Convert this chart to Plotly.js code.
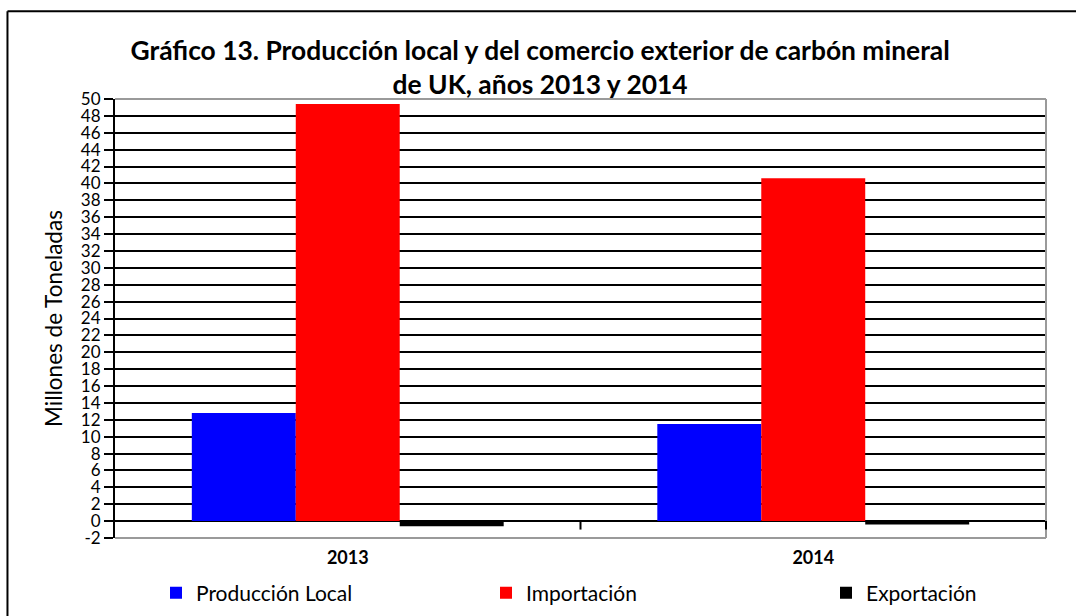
<!DOCTYPE html>
<html>
<head>
<meta charset="utf-8">
<script src="https://cdn.plot.ly/plotly-3.0.1.min.js"></script>
<style>html,body{margin:0;padding:0;background:#fff;}#chart{width:1076px;height:616px;}</style>
</head>
<body>
<div id="chart"></div>
<script>
const years = ["2013", "2014"];
const produccionLocal = [12.8, 11.5];
const importacion = [49.4, 40.6];
const exportacion = [-0.6, -0.4];
const yTicks = [-2,0,2,4,6,8,10,12,14,16,18,20,22,24,26,28,30,32,34,36,38,40,42,44,46,48,50];

const FONT = "Lato, 'Open Sans', sans-serif";

const traces = [
  {type: "bar", name: "Producción Local", x: years, y: produccionLocal, marker: {color: "#0000ff", line: {width: 0}}, legend: "legend"},
  {type: "bar", name: "Importación", x: years, y: importacion, marker: {color: "#ff0000", line: {width: 0}}, legend: "legend2"},
  {type: "bar", name: "Exportación", x: years, y: exportacion, marker: {color: "#000000", line: {width: 0}}, legend: "legend3"}
];

function legendAt(xpx) {
  return {
    orientation: "h", x: xpx / 1076, xanchor: "left", y: 0.037, yanchor: "middle",
    xref: "container", yref: "container",
    font: {family: FONT, size: 21, color: "#000"},
    itemwidth: 30, bgcolor: "rgba(0,0,0,0)"
  };
}

const layout = {
  width: 1076, height: 616,
  margin: {l: 115, r: 30, t: 99, b: 78},
  paper_bgcolor: "#ffffff", plot_bgcolor: "#ffffff",
  font: {family: FONT, color: "#000", size: 16},
  title: {
    text: "<b>Gráfico 13. Producción local y del comercio exterior de carbón mineral<br>de UK, años 2013 y 2014</b>",
    font: {family: FONT, size: 26.4, color: "#000"},
    x: 0.502, xanchor: "center", y: 0.9025, yanchor: "middle"
  },
  barmode: "group",
  bargap: 0.33, bargroupgap: 0,
  showlegend: true,
  legend: legendAt(156),
  legend2: legendAt(486),
  legend3: legendAt(826),
  xaxis: {
    type: "category",
    showgrid: false, zeroline: false, showline: false,
    ticks: "", tickfont: {family: FONT, size: 18, color: "#000", weight: "bold"},
    ticklabelstandoff: 7,
    fixedrange: true
  },
  yaxis: {
    range: [-2, 50], tickvals: yTicks, ticktext: yTicks.map(String),
    showgrid: true, gridcolor: "#000", gridwidth: 2,
    zeroline: true, zerolinecolor: "#000", zerolinewidth: 2,
    showline: true, linecolor: "#000", linewidth: 2,
    ticks: "outside", ticklen: 9, tickwidth: 2, tickcolor: "#000",
    tickfont: {family: FONT, size: 17, color: "#000"},
    title: {text: "Millones de Toneladas", font: {family: FONT, size: 22.5, color: "#000"}, standoff: 12},
    fixedrange: true
  },
  shapes: [
    {type: "line", xref: "paper", yref: "paper", x0: 0, x1: 1, y0: 1, y1: 1, line: {color: "#9a9a9a", width: 2}},
    {type: "line", xref: "paper", yref: "paper", x0: 1, x1: 1, y0: 0, y1: 1, line: {color: "#9a9a9a", width: 2}},
    {type: "line", xref: "paper", yref: "paper", x0: 0, x1: 1, y0: 0, y1: 0, line: {color: "#9a9a9a", width: 2}},
    {type: "line", xref: "paper", yref: "y", x0: 0.5, x1: 0.5, y0: 0, y1: -1.0, line: {color: "#000", width: 2}},
    {type: "line", xref: "paper", yref: "y", x0: 1, x1: 1, y0: 0, y1: -1.0, line: {color: "#000", width: 2}},
    {type: "line", xref: "paper", yref: "paper", x0: -0.1155, x1: 1.2, y0: 1.2, y1: 1.2, line: {color: "#000", width: 2}},
    {type: "line", xref: "paper", yref: "paper", x0: -0.1155, x1: -0.1155, y0: -0.2, y1: 1.2, line: {color: "#000", width: 2}}
  ]
};

Plotly.newPlot("chart", traces, layout, {displayModeBar: false, staticPlot: true});
</script>
</body>
</html>
